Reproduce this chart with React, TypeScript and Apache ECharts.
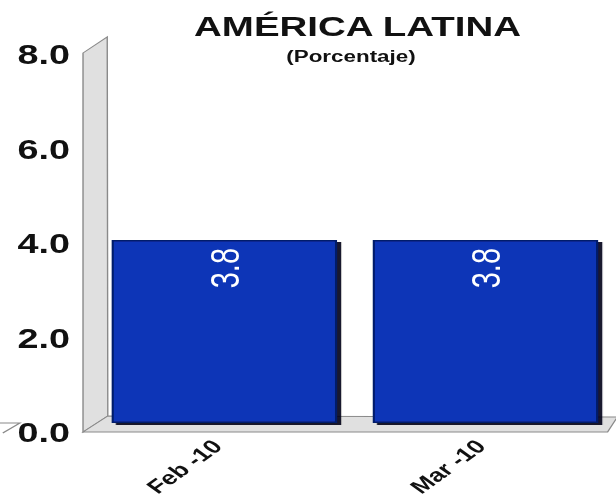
import React, { useEffect, useRef } from "react";
import * as echarts from "echarts";

const categories = ["Feb -10", "Mar -10"];
const values = [3.8, 3.8];
const yMin = 0;
const yMax = 8;
const yInterval = 2;
const titleText = "AMÉRICA LATINA";
const subtitleText = "(Porcentaje)";

const SX = 1.4; // horizontal stretch of the reference
const W = 440;
const H = 500;

export default function App() {
  const ref = useRef<HTMLDivElement>(null);
  useEffect(() => {
    if (!ref.current) return;
    const chart = echarts.init(ref.current, null, { renderer: "svg", width: W, height: H });
    const font = "'Liberation Sans', Arial, sans-serif";
    const gridLeft = 67;
    const gridWidth = 376.4;
    const wallStyle = { fill: "#e0e0e0", stroke: "#8a8a8a", lineWidth: 1 };
    chart.setOption({
      animation: false,
      backgroundColor: "#ffffff",
      grid: [
        { left: gridLeft, width: gridWidth, top: 37.7, bottom: 77 },
        { left: gridLeft, width: gridWidth, top: 55, bottom: 67 },
        { left: gridLeft - 6, width: gridWidth, top: 55, bottom: 67 },
      ],
      xAxis: [
        { type: "category", gridIndex: 0, data: categories, show: false },
        { type: "category", gridIndex: 1, data: categories, show: false },
        {
          type: "category",
          gridIndex: 2,
          data: categories,
          axisLine: { show: false },
          axisTick: { show: false },
          axisLabel: {
            rotate: 45,
            margin: 10,
            fontFamily: font,
            fontWeight: "bold",
            fontSize: 19,
            color: "#111",
          },
        },
      ],
      yAxis: [
        { type: "value", gridIndex: 0, min: yMin, max: yMax, interval: yInterval, show: false },
        {
          type: "value",
          gridIndex: 1,
          min: yMin,
          max: yMax,
          interval: yInterval,
          axisLine: { show: false },
          axisTick: { show: false },
          splitLine: { show: false },
          axisLabel: {
            margin: 17,
            fontFamily: font,
            fontWeight: "bold",
            fontSize: 27,
            color: "#111",
            formatter: (v: number) => v.toFixed(1),
          },
        },
        { type: "value", gridIndex: 2, min: yMin, max: yMax, interval: yInterval, show: false },
      ],
      graphic: [
        {
          type: "polygon",
          z: 0,
          shape: { points: [[59.3, 53], [76.6, 37], [77, 416], [59.3, 432]] },
          style: wallStyle,
        },
        {
          type: "polygon",
          z: 0,
          shape: { points: [[59.3, 432], [77, 416], [441, 417], [434, 432]] },
          style: wallStyle,
        },
        {
          type: "polyline",
          z: 0,
          shape: { points: [[0, 423], [14.3, 423], [2, 433]] },
          style: { stroke: "#8a8a8a", lineWidth: 1, fill: null },
        },
        {
          type: "text",
          x: 255.4,
          y: 27,
          style: {
            text: titleText,
            align: "center",
            verticalAlign: "middle",
            fontFamily: font,
            fontWeight: "bold",
            fontSize: 27.5,
            fill: "#111",
          },
        },
        {
          type: "text",
          x: 250.7,
          y: 56,
          style: {
            text: subtitleText,
            align: "center",
            verticalAlign: "middle",
            fontFamily: font,
            fontWeight: "bold",
            fontSize: 16,
            fill: "#111",
          },
        },
      ],
      series: [
        {
          type: "bar",
          xAxisIndex: 0,
          yAxisIndex: 0,
          data: values,
          barWidth: 161,
          z: 2,
          itemStyle: {
            color: "#0836B7",
            borderColor: "#061a6a",
            borderWidth: 1.5,
            shadowColor: "rgba(0,0,20,0.9)",
            shadowOffsetX: 3,
            shadowOffsetY: 2,
            shadowBlur: 1,
          },
          label: {
            show: true,
            position: "insideTop",
            distance: 8,
            rotate: 90,
            align: "right",
            verticalAlign: "middle",
            fontFamily: font,
            fontSize: 29,
            color: "#ffffff",
            formatter: (p: any) => Number(p.value).toFixed(1),
          },
        },
        {
          type: "line",
          xAxisIndex: 1,
          yAxisIndex: 1,
          data: [],
          silent: true,
        },
        {
          type: "line",
          xAxisIndex: 2,
          yAxisIndex: 2,
          data: [],
          silent: true,
        },
      ],
    });
    return () => chart.dispose();
  }, []);
  return (
    <div
      ref={ref}
      style={{
        position: "absolute",
        left: 0,
        top: 0,
        width: W,
        height: H,
        transform: `scaleX(${SX})`,
        transformOrigin: "0 0",
      }}
    />
  );
}
